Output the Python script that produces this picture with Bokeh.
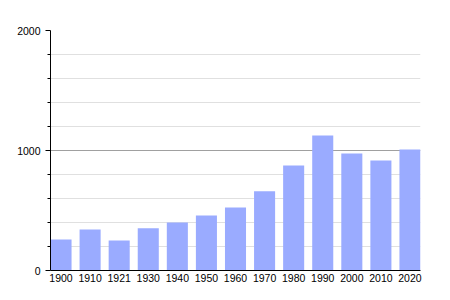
from bokeh.plotting import figure
from bokeh.models import FixedTicker, Range1d
from bokeh.embed import file_html
from bokeh.resources import INLINE

years = ["1900", "1910", "1921", "1930", "1940", "1950", "1960", "1970", "1980", "1990", "2000", "2010", "2020"]
population = [258, 342, 250, 353, 400, 458, 525, 661, 875, 1125, 975, 917, 1008]
y_major = [0, 1000, 2000]
y_minor = [200, 400, 600, 800, 1200, 1400, 1600, 1800]

xs = list(range(len(years)))
bar_w = 0.724

p = figure(width=450, height=300, output_backend="svg", toolbar_location=None,
           x_range=Range1d(-bar_w / 2, len(years) - 1 + bar_w / 2),
           y_range=Range1d(0, 2000),
           min_border_left=50, min_border_right=30, min_border_top=30, min_border_bottom=30)
p.outline_line_color = None
p.background_fill_color = "white"
p.border_fill_color = "white"

p.vbar(x=xs, top=population, width=bar_w, bottom=0, fill_color="#9aabff", line_color=None)

p.xgrid.grid_line_color = None
p.ygrid.grid_line_color = "#a0a0a0"
p.ygrid.minor_grid_line_color = "#e0e0e0"
p.ygrid.level = "underlay"

p.yaxis.ticker = FixedTicker(ticks=y_major, minor_ticks=y_minor)
p.yaxis.axis_line_color = "black"
p.yaxis.major_tick_line_color = "black"
p.yaxis.minor_tick_line_color = "black"
p.yaxis.major_tick_out = 5
p.yaxis.major_tick_in = 0
p.yaxis.minor_tick_out = 3
p.yaxis.minor_tick_in = 0
p.yaxis.major_label_standoff = 5

p.xaxis.ticker = FixedTicker(ticks=xs)
p.xaxis.major_label_overrides = {i: y for i, y in enumerate(years)}
p.xaxis.axis_line_color = "black"
p.xaxis.major_tick_line_color = None
p.xaxis.minor_tick_line_color = None
p.xaxis.major_tick_out = 0
p.xaxis.major_label_standoff = 3

for ax in (p.xaxis, p.yaxis):
    ax.major_label_text_font = "Liberation Sans"
    ax.major_label_text_font_size = "10.5px"
    ax.major_label_text_color = "black"

open("out.html", "w").write(file_html(p, INLINE))
